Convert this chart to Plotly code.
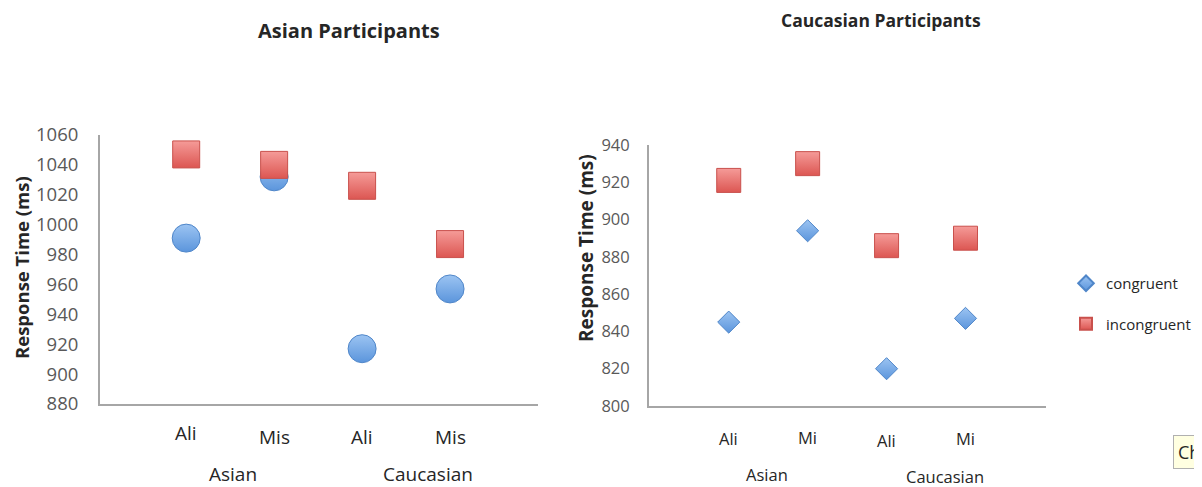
import plotly.graph_objects as go

# ---- data ----
conditions = ["Ali", "Mis", "Ali", "Mis"]
conditions_right = ["Ali", "Mi", "Ali", "Mi"]
groups = ["Asian", "Caucasian"]
series_names = ["congruent", "incongruent"]

asian_congruent = [991, 1032, 917, 957]
asian_incongruent = [1047, 1040, 1026, 987]
cauc_congruent = [845, 894, 820, 847]
cauc_incongruent = [921, 930, 886, 890]

left_yticks = [880, 900, 920, 940, 960, 980, 1000, 1020, 1040, 1060]
right_yticks = [800, 820, 840, 860, 880, 900, 920, 940]

W, H = 1202, 487
OFF = 8  # default page body margin
FONT = "'Open Sans', 'Noto Sans', sans-serif"
BLUE = "#5b95dc"
BLUE_L = "#9cc4f2"
RED = "#dc5652"
RED_L = "#f59b98"
TXT = "#262626"

xpos = list(range(len(conditions)))

fig = go.Figure()

def px_x(p):
    return (p - OFF) / W

def px_y(p):
    return 1 - (p - OFF) / H

# left chart
fig.add_trace(go.Scatter(
    x=xpos, y=asian_congruent, mode="markers", name=series_names[0],
    xaxis="x", yaxis="y", showlegend=False,
    marker=dict(symbol="circle", size=28, color=BLUE_L,
                gradient=dict(type="vertical", color=BLUE),
                line=dict(color="#4f86c9", width=1))))
fig.add_trace(go.Scatter(
    x=xpos, y=asian_incongruent, mode="markers", name=series_names[1],
    xaxis="x", yaxis="y", showlegend=False,
    marker=dict(symbol="square", size=27, color=RED_L,
                gradient=dict(type="vertical", color=RED),
                line=dict(color="#c9504c", width=1))))

# right chart
fig.add_trace(go.Scatter(
    x=xpos, y=cauc_congruent, mode="markers", name=series_names[0],
    xaxis="x2", yaxis="y2", legendgroup="a",
    marker=dict(symbol="diamond", size=17, color=BLUE_L,
                gradient=dict(type="vertical", color=BLUE),
                line=dict(color="#4f86c9", width=1))))
fig.add_trace(go.Scatter(
    x=xpos, y=cauc_incongruent, mode="markers", name=series_names[1],
    xaxis="x2", yaxis="y2", legendgroup="b",
    marker=dict(symbol="square", size=24, color=RED_L,
                gradient=dict(type="vertical", color=RED),
                line=dict(color="#c9504c", width=1))))

axis_common = dict(showgrid=False, zeroline=False, showline=True,
                   linecolor="#a6a6a6", linewidth=2, automargin=False)

annotations = []

def ann(x, y, text, size, xref="paper", bold=False, angle=0, **kw):
    annotations.append(dict(
        x=x, y=y, xref=xref, yref="paper", xanchor=kw.pop("xanchor", "center"),
        yanchor="middle", text=f"<b>{text}</b>" if bold else text,
        showarrow=False, textangle=angle,
        font=dict(family=FONT, size=size, color=TXT), **kw))

# category labels
left_label_y = [433, 437, 437, 437]
for i, lab in enumerate(conditions):
    ann(i, px_y(left_label_y[i]), lab, 19, xref="x")
right_label_y = [438, 437, 440, 438]
for i, lab in enumerate(conditions_right):
    ann(i, px_y(right_label_y[i]), lab, 16.5, xref="x2")
ann(0.53, px_y(474), groups[0], 19, xref="x")
ann(2.75, px_y(474), groups[1], 19, xref="x")
ann(0.48, px_y(474), groups[0], 16.5, xref="x2")
ann(2.74, px_y(476), groups[1], 16.5, xref="x2")

# titles
ann(px_x(349), px_y(30), "Asian Participants", 20, bold=True)
ann(px_x(881), px_y(20), "Caucasian Participants", 17.5, bold=True)
# y titles
ann(px_x(21), px_y(268), "Response Time (ms)", 18.5, bold=True, angle=-90,
    borderpad=0)
ann(px_x(586), px_y(248), "Response Time (ms)", 19, bold=True, angle=-90)
# tooltip fragment (partly off the right edge, as in the reference)
ann(px_x(1173), px_y(452), "Ch", 18, xanchor="left",
    bgcolor="#ffffe1", bordercolor="#b0b0b0", borderwidth=1, borderpad=4)

fig.update_layout(
    width=W, height=H,
    margin=dict(l=0, r=0, t=0, b=0, autoexpand=False),
    paper_bgcolor="white", plot_bgcolor="white",
    font=dict(family=FONT, size=15, color="#595959"),
    xaxis=dict(domain=[px_x(100), px_x(538)], range=[-0.98, 4.0],
               showticklabels=False, ticks="", **axis_common),
    yaxis=dict(domain=[px_y(404), px_y(135)], range=[880, 1060],
               tickvals=left_yticks, ticks="", ticklabelstandoff=16,
               tickfont=dict(size=18.5, color="#595959"),
               anchor="x", **axis_common),
    xaxis2=dict(domain=[px_x(649), px_x(1046)], range=[-1.01, 4.02],
                showticklabels=False, ticks="", anchor="y2", **axis_common),
    yaxis2=dict(domain=[px_y(406), px_y(145)], range=[800, 940],
                tickvals=right_yticks, ticks="", ticklabelstandoff=14,
                tickfont=dict(size=16.5, color="#595959"),
                anchor="x2", **axis_common),
    legend=dict(x=px_x(1066), y=px_y(267), xanchor="left", yanchor="top",
                itemsizing="constant", tracegroupgap=18, itemwidth=30,
                font=dict(family=FONT, size=15, color=TXT),
                bgcolor="rgba(0,0,0,0)"),
    annotations=annotations,
)

fig.write_html("out.html")
